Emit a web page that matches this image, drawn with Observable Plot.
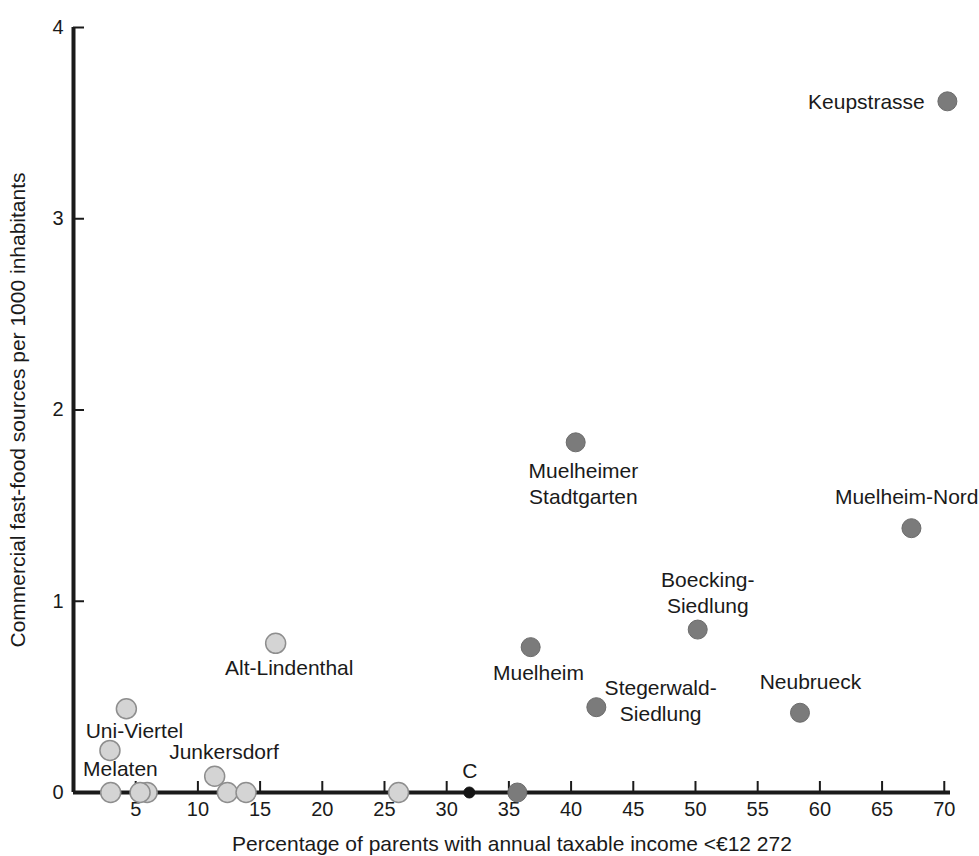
<!DOCTYPE html>
<html>
<head>
<meta charset="utf-8">
<script src="https://cdn.jsdelivr.net/npm/d3@7"></script>
<script src="https://cdn.jsdelivr.net/npm/@observablehq/plot@0.6"></script>
<style>
  html, body { margin: 0; padding: 0; background: #ffffff; }
  #chart svg { display: block; }
</style>
</head>
<body>
<div id="chart"></div>
<script>
// ---- Data ----
// Neighbourhood points: % of parents with income < €12 272 (x), fast-food sources per 1000 inhabitants (y)
const pointNames = [
  "Keupstrasse", "Muelheimer Stadtgarten", "Muelheim-Nord", "Boecking-Siedlung",
  "Muelheim", "Stegerwald-Siedlung", "Neubrueck", "(unlabelled, high)",
  "Alt-Lindenthal", "Uni-Viertel", "(unlabelled, 0.22)", "Junkersdorf",
  "Melaten", "(unlabelled, 5.9)", "(unlabelled, 5.4)", "(unlabelled, 12.4)",
  "(unlabelled, 13.9)", "(unlabelled, 26.1)", "C"
];
const pointPct = [
  70.25, 40.37, 67.36, 50.18,
  36.75, 42.03, 58.40, 35.68,
  16.25, 4.25, 2.93, 11.35,
  2.99, 5.92, 5.35, 12.37,
  13.87, 26.13, 31.82
];
const pointRate = [
  3.614, 1.831, 1.382, 0.852,
  0.760, 0.446, 0.417, 0.0,
  0.780, 0.438, 0.220, 0.085,
  0.0, 0.0, 0.0, 0.0,
  0.0, 0.0, 0.0
];
const pointGroup = [
  "low", "low", "low", "low",
  "low", "low", "low", "low",
  "high", "high", "high", "high",
  "high", "high", "high", "high",
  "high", "high", "city"
];

// Annotation labels (placed in data space next to their points)
const labelText = [
  "Keupstrasse", "Muelheimer\nStadtgarten", "Muelheim-Nord", "Boecking-\nSiedlung",
  "Muelheim", "Stegerwald-\nSiedlung", "Neubrueck", "Alt-Lindenthal",
  "Uni-Viertel", "Melaten", "Junkersdorf", "C"
];
const labelPct = [68.43, 40.99, 66.98, 50.99, 37.38, 47.20, 59.24, 17.34, 4.90, 3.77, 12.10, 31.85];
const labelRate = [3.618, 1.618, 1.553, 1.050, 0.633, 0.485, 0.582, 0.655, 0.328, 0.129, 0.220, 0.120];
const labelAlign = ["end", "middle", "middle", "middle", "middle", "middle", "middle", "middle", "middle", "middle", "middle", "middle"];

const xTicks = [5, 10, 15, 20, 25, 30, 35, 40, 45, 50, 55, 60, 65, 70];
const yTicks = [0, 1, 2, 3, 4];
const xTitle = "Percentage of parents with annual taxable income <€12 272";
const yTitle = "Commercial fast-food sources per 1000 inhabitants";

// ---- Tables built from the arrays ----
const points = pointNames.map((name, i) => ({name, pct: pointPct[i], rate: pointRate[i], group: pointGroup[i]}));
const labels = labelText.map((text, i) => ({text, pct: labelPct[i], rate: labelRate[i], align: labelAlign[i]}));

const font = "'Liberation Sans', Arial, Helvetica, sans-serif";
const ink = "#1a1a1a";

const chart = Plot.plot({
  width: 979,
  height: 856,
  marginLeft: 73,
  marginRight: 29,
  marginTop: 27,
  marginBottom: 64,
  x: {domain: [0, 70.5]},
  y: {domain: [0, 4]},
  style: {fontFamily: font, background: "#ffffff", color: ink},
  marks: [
    // inward tick marks
    Plot.ruleX(xTicks, {x: d => d, y1: 0, y2: 0, insetTop: -11, stroke: ink, strokeWidth: 2}),
    Plot.ruleY(yTicks.filter(d => d > 0), {y: d => d, x1: 0, x2: 0, insetRight: -11, stroke: ink, strokeWidth: 2}),
    // thick axis lines
    Plot.ruleY([0], {stroke: ink, strokeWidth: 4}),
    Plot.ruleX([0], {stroke: ink, strokeWidth: 4}),
    // tick labels
    Plot.axisX({ticks: xTicks, tickSize: 0, tickPadding: 9, fontSize: 20, label: null, tickFormat: d3.format("d")}),
    Plot.axisY({ticks: yTicks, tickSize: 0, tickPadding: 10, fontSize: 20, label: null, tickFormat: d3.format("d")}),
    // axis titles
    Plot.axisX({ticks: [], tickSize: 0, label: xTitle, labelAnchor: "center", labelArrow: "none", labelOffset: 58, fontSize: 21}),
    Plot.axisY({ticks: [], tickSize: 0, label: yTitle, labelAnchor: "center", labelArrow: "none", labelOffset: 63, fontSize: 21}),
    // points: high-income districts (light), low-income districts (dark), city average (black)
    Plot.dot(points.filter(d => d.group === "high"), {
      x: "pct", y: "rate", r: 10, fill: "#d4d4d4", stroke: "#8e8e8e", strokeWidth: 1.5
    }),
    Plot.dot(points.filter(d => d.group === "low"), {
      x: "pct", y: "rate", r: 9.5, fill: "#7b7b7b", stroke: "#6c6c6c", strokeWidth: 1
    }),
    Plot.dot(points.filter(d => d.group === "city"), {
      x: "pct", y: "rate", r: 5.5, fill: "#141414", stroke: "#141414", strokeWidth: 1
    }),
    // annotation labels
    Plot.text(labels.filter(d => d.align === "middle"), {
      x: "pct", y: "rate", text: "text",
      textAnchor: "middle", lineAnchor: "middle", lineHeight: 1.22,
      fontSize: 21, fill: ink
    }),
    Plot.text(labels.filter(d => d.align === "end"), {
      x: "pct", y: "rate", text: "text",
      textAnchor: "end", lineAnchor: "middle", lineHeight: 1.22,
      fontSize: 21, fill: ink
    })
  ]
});

document.getElementById("chart").appendChild(chart);
</script>
</body>
</html>
